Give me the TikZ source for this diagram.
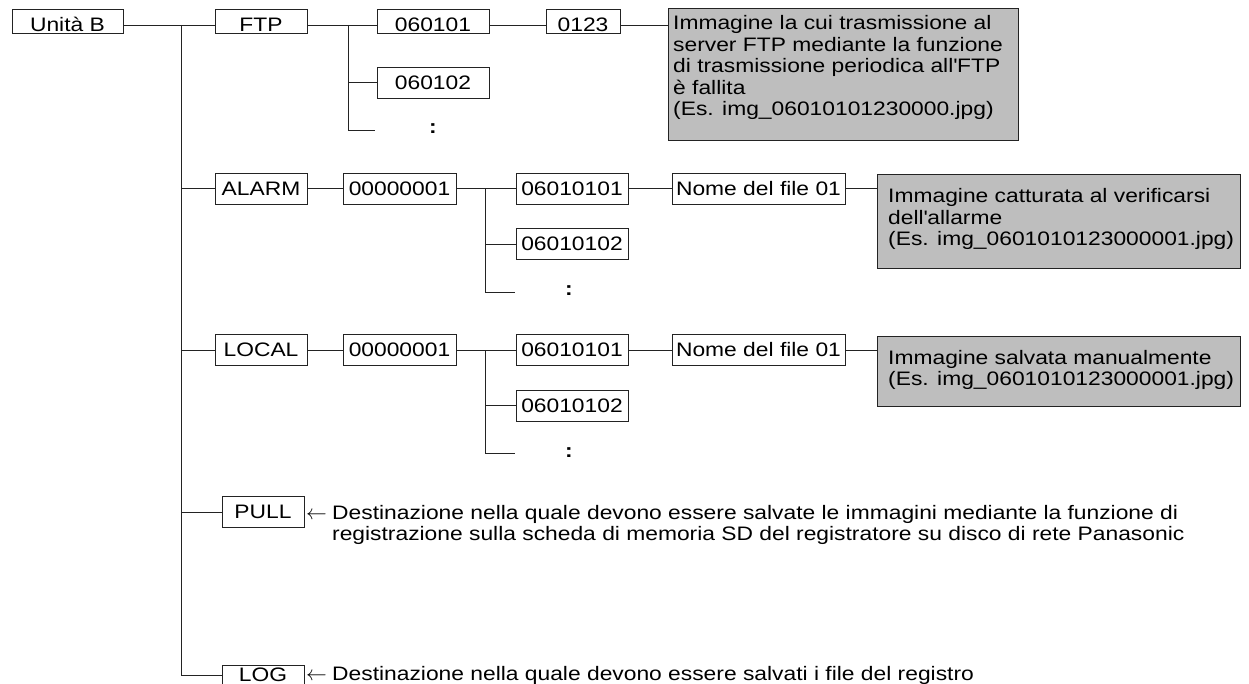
\documentclass[tikz,border=0pt]{standalone}
\usepackage{fontspec}
\setmainfont{Liberation Sans}[FakeStretch=1.17]
\definecolor{boxgray}{RGB}{190,190,190}
\definecolor{ln}{RGB}{35,35,35}
\tikzset{
  lbl/.style={draw=ln, line width=0.9pt, inner xsep=0pt, inner ysep=0pt,
    text height=13.9pt, text depth=0pt, minimum height=31pt, anchor=center},
  toplbl/.style={lbl, minimum height=24pt, text height=21.9pt},
  graybox/.style={draw=ln, fill=boxgray, line width=1pt, inner sep=0pt, anchor=north west},
  txt/.style={inner sep=0pt, anchor=base west},
  conn/.style={draw=ln, line width=0.9pt}
}
\begin{document}
\begin{tikzpicture}[x=1pt, y=-1pt, font=\fontsize{19.5pt}{21.5pt}\selectfont]
\useasboundingbox (0,0) rectangle (1249,684);
\clip (0,0) rectangle (1249,684);

% ---- FTP row
\node[toplbl, minimum width=111pt] (ub) at (67.5,21) {Unità B};
\node[toplbl, minimum width=92pt] (ftp) at (261,21) {FTP};
\node[toplbl, minimum width=112pt] (f1) at (433,21) {060101};
\node[lbl, minimum width=112pt] (f2) at (433,82.5) {060102};
\node[txt, anchor=base] (fc) at (433,134) {\textbf{:}};
\node[toplbl, minimum width=74pt] (f0123) at (583,21) {0123};
\node[graybox, minimum width=350pt, minimum height=132pt] (g1) at (668,8) {};
\node[txt] (g1t) at (673,30) {\begin{tabular}[t]{@{}l@{}}
Immagine la cui trasmissione al\\
server FTP mediante la funzione\\
di trasmissione periodica all\textquotesingle FTP\\
è fallita\\
(Es. img\_06010101230000.jpg)\end{tabular}};

% ---- ALARM row
\node[lbl, minimum width=92pt] (alarm) at (261,188.5) {ALARM};
\node[lbl, minimum width=113pt] (a1) at (399.5,188.5) {00000001};
\node[lbl, minimum width=112pt] (a2) at (572,188.5) {06010101};
\node[lbl, minimum width=112pt] (a3) at (572,244) {06010102};
\node[txt, anchor=base] (ac) at (569,296) {\textbf{:}};
\node[lbl, minimum width=173pt] (a4) at (758.5,188.5) {Nome del file 01};
\node[graybox, minimum width=363pt, minimum height=94pt] (g2) at (877,174) {};
\node[txt] (g2t) at (888,203) {\begin{tabular}[t]{@{}l@{}}
Immagine catturata al verificarsi\\
dell\textquotesingle allarme\\
(Es. img\_0601010123000001.jpg)\end{tabular}};

% ---- LOCAL row
\node[lbl, minimum width=92pt] (local) at (261,350) {LOCAL};
\node[lbl, minimum width=113pt] (l1) at (399.5,350) {00000001};
\node[lbl, minimum width=112pt] (l2) at (572,350) {06010101};
\node[lbl, minimum width=112pt] (l3) at (572,405.5) {06010102};
\node[txt, anchor=base] (lc) at (569,457) {\textbf{:}};
\node[lbl, minimum width=173pt] (l4) at (758.5,350) {Nome del file 01};
\node[graybox, minimum width=363pt, minimum height=70pt] (g3) at (877,336) {};
\node[txt] (g3t) at (888,364) {\begin{tabular}[t]{@{}l@{}}
Immagine salvata manualmente\\
(Es. img\_0601010123000001.jpg)\end{tabular}};

% ---- PULL and LOG
\node[lbl, minimum width=82pt] (pull) at (263,512) {PULL};
\node[txt] (parr) at (306,519) {$\leftarrow$};
\node[txt] (pt) at (332,519) {\begin{tabular}[t]{@{}l@{}}
Destinazione nella quale devono essere salvate le immagini mediante la funzione di\\
registrazione sulla scheda di memoria SD del registratore su disco di rete Panasonic\end{tabular}};
\node[lbl, minimum width=82pt, text depth=12.9pt] (log) at (263,680.5) {LOG};
\node[txt] (larr) at (306,680) {$\leftarrow$};
\node[txt] (lt) at (332,680) {Destinazione nella quale devono essere salvati i file del registro};

% ---- connectors
\coordinate (T) at (181,25);
\draw[conn] ([yshift=-4pt]ub.east) -- ([yshift=-4pt]ftp.west);
\draw[conn] (T) |- ([yshift=5.5pt]log.west);
\draw[conn] (T |- alarm.west) -- (alarm.west);
\draw[conn] (T |- local.west) -- (local.west);
\draw[conn] (T |- pull.west) -- (pull.west);

\coordinate (S1) at (348,25);
\coordinate (E1) at (375,130);
\draw[conn] ([yshift=-4pt]ftp.east) -- ([yshift=-4pt]f1.west);
\draw[conn] (S1) |- (E1);
\draw[conn] (S1 |- f2.west) -- (f2.west);
\draw[conn] ([yshift=-4pt]f1.east) -- ([yshift=-4pt]f0123.west);
\draw[conn] ([yshift=-4pt]f0123.east) -- ([yshift=-4pt]f0123.east -| g1.west);

\coordinate (S2) at (485,188.5);
\coordinate (E2) at (515,292);
\draw[conn] (alarm.east) -- (a1.west);
\draw[conn] (a1.east) -- (a2.west);
\draw[conn] (S2) |- (E2);
\draw[conn] (S2 |- a3.west) -- (a3.west);
\draw[conn] (a2.east) -- (a4.west);
\draw[conn] (a4.east) -- (a4.east -| g2.west);

\coordinate (S3) at (485,350);
\coordinate (E3) at (515,453);
\draw[conn] (local.east) -- (l1.west);
\draw[conn] (l1.east) -- (l2.west);
\draw[conn] (S3) |- (E3);
\draw[conn] (S3 |- l3.west) -- (l3.west);
\draw[conn] (l2.east) -- (l4.west);
\draw[conn] (l4.east) -- (l4.east -| g3.west);
\end{tikzpicture}
\end{document}
